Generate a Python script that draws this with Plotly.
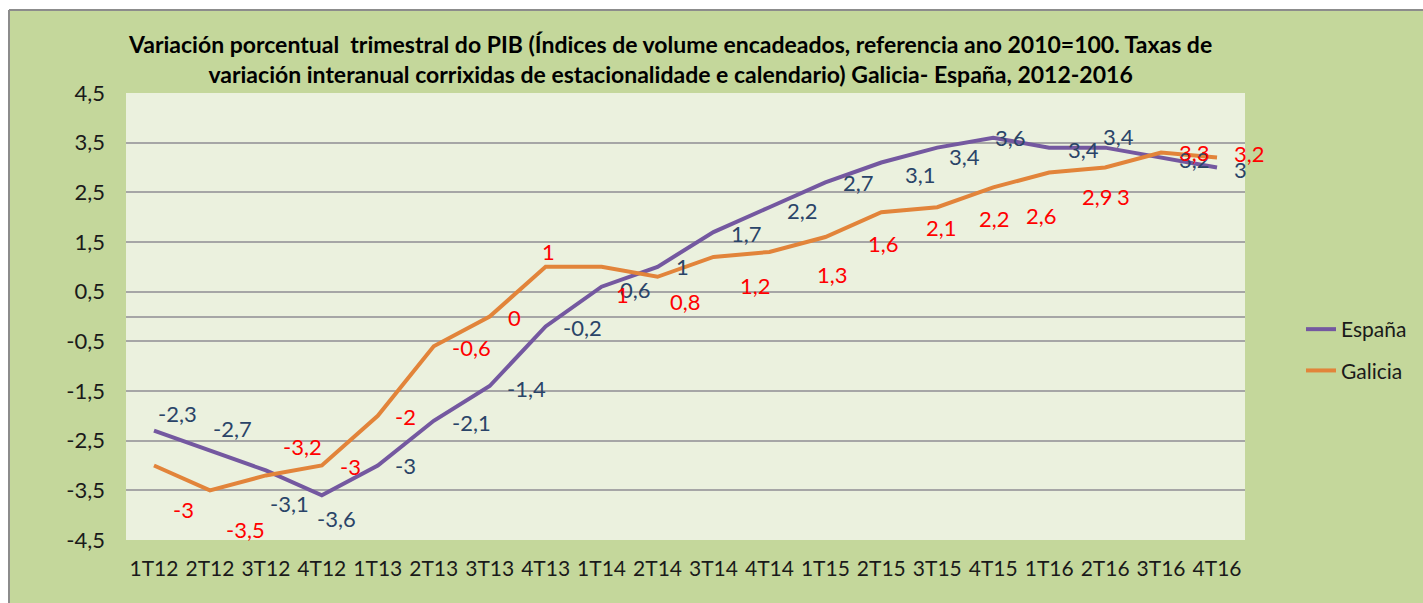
import plotly.graph_objects as go

categories = ["1T12", "2T12", "3T12", "4T12", "1T13", "2T13", "3T13", "4T13",
              "1T14", "2T14", "3T14", "4T14", "1T15", "2T15", "3T15", "4T15",
              "1T16", "2T16", "3T16", "4T16"]
espana = [-2.3, -2.7, -3.1, -3.6, -3.0, -2.1, -1.4, -0.2, 0.6, 1.0,
          1.7, 2.2, 2.7, 3.1, 3.4, 3.6, 3.4, 3.4, 3.2, 3.0]
galicia = [-3.0, -3.5, -3.2, -3.0, -2.0, -0.6, 0.0, 1.0, 1.0, 0.8,
           1.2, 1.3, 1.6, 2.1, 2.2, 2.6, 2.9, 3.0, 3.3, 3.2]
y_ticks = [-4.5, -3.5, -2.5, -1.5, -0.5, 0.5, 1.5, 2.5, 3.5, 4.5]

# label offsets in pixels (dx right, dy down) -- styling only
esp_dx = [24, 23, 24, 15, 28, 38, 37, 37, 34, 25, 33, 33, 33, 39, 27, 17, 34, 13, 33, 23]
esp_dy = [-17, -22, 33, 23, 0, 2, 2, 1, 3, 0, 1, 3, 0, 12, 9, 0, 2, -11, 2, 2]
gal_dx = [30, 36, 37, 29, 28, 38, 25, 3, 21, 28, 42, 63, 58, 60, 57, 48, 48, 18, 33, 32]
gal_dy = [44, 39, -29, 1, 1, 1, 1, -15, 28, 25, 29, 23, 6, 15, 11, 28, 24, 29, 0, -4]

FONT = "Lato"
PL, PR, PT, PB = 126, 1245, 93, 540
W, H = 1423, 603


def px2x(px):
    return (px - PL) / (PR - PL)


def px2y(py):
    return (PB - py) / (PB - PT)


def fmt(v):
    return f"{v:g}".replace(".", ",")


fig = go.Figure()
fig.add_trace(go.Scatter(x=categories, y=espana, name="España", mode="lines",
                         line=dict(color="#7458a0", width=4), legendgroup="a"))
fig.add_trace(go.Scatter(x=categories, y=galicia, name="Galicia", mode="lines",
                         line=dict(color="#e2843a", width=4), legendgroup="b"))

annotations = []
for c, v, dx, dy in zip(categories, espana, esp_dx, esp_dy):
    annotations.append(dict(x=c, y=v, text=fmt(v), showarrow=False, xshift=dx, yshift=-dy,
                            xanchor="center", yanchor="middle",
                            font=dict(family=FONT, size=22, color="#2a4468")))
for c, v, dx, dy in zip(categories, galicia, gal_dx, gal_dy):
    annotations.append(dict(x=c, y=v, text=fmt(v), showarrow=False, xshift=dx, yshift=-dy,
                            xanchor="center", yanchor="middle",
                            font=dict(family=FONT, size=22, color="#ff0000")))

annotations.append(dict(
    xref="paper", yref="paper", x=px2x(670), y=px2y(59), xanchor="center", yanchor="middle",
    showarrow=False, align="center",
    text="<b>Variación porcentual  trimestral do PIB (Índices de volume encadeados, referencia ano 2010=100. Taxas de<br>"
         "variación interanual corrixidas de estacionalidade e calendario) Galicia- España, 2012-2016</b>",
    font=dict(family=FONT, size=23, color="#000000")))

shapes = [
    dict(type="rect", xref="paper", yref="paper", x0=px2x(-5), x1=px2x(W + 5), y0=px2y(10), y1=px2y(-5),
         fillcolor="#ffffff", line=dict(width=0), layer="below"),
    dict(type="rect", xref="paper", yref="paper", x0=px2x(-5), x1=px2x(9), y0=px2y(H + 5), y1=px2y(-5),
         fillcolor="#ffffff", line=dict(width=0), layer="below"),
    dict(type="line", xref="paper", yref="paper", x0=px2x(9), x1=px2x(W + 5), y0=px2y(10), y1=px2y(10),
         line=dict(color="#8c8c8c", width=2), layer="below"),
    dict(type="line", xref="paper", yref="paper", x0=px2x(9), x1=px2x(9), y0=px2y(10), y1=px2y(H + 5),
         line=dict(color="#8c8c8c", width=2), layer="below"),
]

fig.update_layout(
    width=W, height=H,
    margin=dict(l=PL, r=W - PR, t=PT, b=H - PB, autoexpand=False),
    paper_bgcolor="#c4d79b", plot_bgcolor="#ebf1de",
    separators=", ",
    font=dict(family=FONT, size=22, color="#1a1a1a"),
    showlegend=True,
    legend=dict(x=px2x(1301), y=px2y(309), xanchor="left", yanchor="top",
                bgcolor="rgba(0,0,0,0)", font=dict(family=FONT, size=21, color="#1a1a1a"),
                traceorder="grouped", tracegroupgap=11, itemwidth=30),
    annotations=annotations,
    shapes=shapes,
)
fig.update_xaxes(type="category", range=[-0.5, len(categories) - 0.5], showgrid=False,
                 showline=False, zeroline=False, ticks="", ticklabelstandoff=14,
                 tickfont=dict(family=FONT, size=21, color="#1a1a1a"), fixedrange=True)
fig.update_yaxes(range=[-4.5, 4.5], tickmode="array", tickvals=y_ticks,
                 ticktext=[fmt(t) for t in y_ticks], showgrid=True, gridcolor="#a6a6a6", gridwidth=1.5,
                 zeroline=True, zerolinecolor="#a6a6a6", zerolinewidth=1.5,
                 showline=False, ticks="", ticklabelstandoff=20,
                 tickfont=dict(family=FONT, size=22, color="#1a1a1a"), fixedrange=True)

fig.write_html("out.html", config={"displayModeBar": False},
               post_script="document.body.style.margin='0';document.body.style.overflow='hidden';")
